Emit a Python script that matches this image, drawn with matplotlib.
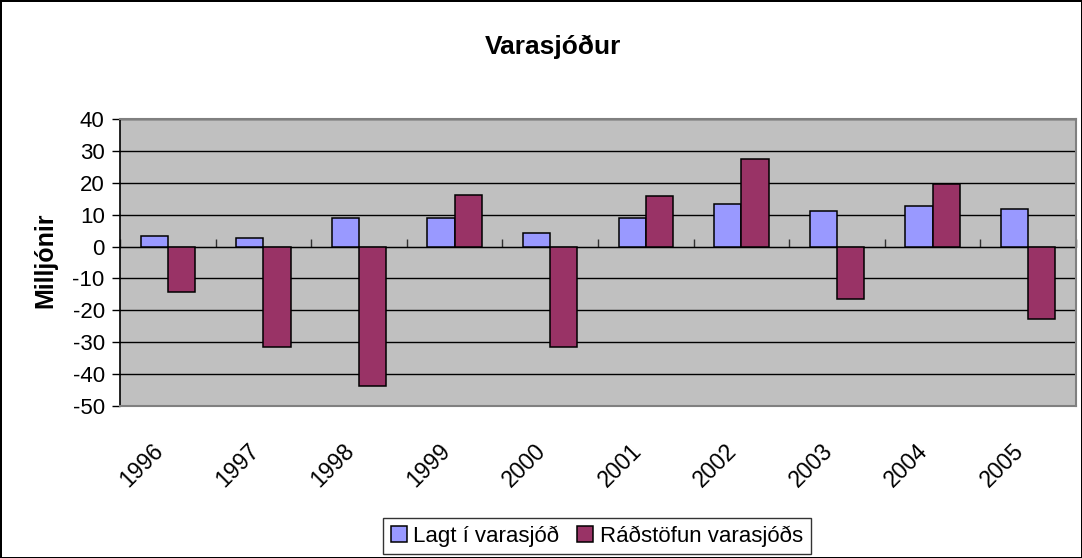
import matplotlib.pyplot as plt
import matplotlib.transforms as mtransforms
import numpy as np

years = ["1996", "1997", "1998", "1999", "2000", "2001", "2002", "2003", "2004", "2005"]
lagt = [3.4, 2.8, 8.9, 8.9, 4.2, 8.9, 13.5, 11.3, 12.6, 11.7]
radstofun = [-14.4, -31.6, -43.8, 16.2, -31.6, 15.8, 27.4, -16.3, 19.6, -22.8]
yticks = list(range(-50, 41, 10))

plt.rcParams["font.family"] = ["Liberation Sans", "DejaVu Sans"]

fig = plt.figure(figsize=(10.82, 5.58), dpi=100)
fig.patch.set_edgecolor("black")
fig.patch.set_linewidth(2)
ax = fig.add_axes([120 / 1082, 152 / 558, 956 / 1082, 287 / 558])
ax.set_facecolor("#C0C0C0")

x = np.arange(len(years))
w = 0.285
ax.bar(x - w / 2, lagt, w, color="#9999FF", edgecolor="black", linewidth=1.1,
       label="Lagt í varasjóð", zorder=3)
ax.bar(x + w / 2, radstofun, w, color="#993366", edgecolor="black", linewidth=1.1,
       label="Ráðstöfun varasjóðs", zorder=3)

ax.set_xlim(-0.5, len(years) - 0.5)
ax.set_ylim(-50, 40)
ax.set_yticks(yticks)
ax.set_yticklabels([str(v) for v in yticks], fontsize=16)
ax.yaxis.grid(True, color="black", linewidth=1, zorder=0)
ax.tick_params(axis="y", length=6, width=1, pad=5)

ax.set_xticks(x)
ax.set_xticklabels(years, rotation=45, ha="right", va="center",
                   rotation_mode="anchor", fontsize=16.5)
ax.tick_params(axis="x", length=0, pad=30)
shift = mtransforms.ScaledTranslation(-0.08, 0, fig.dpi_scale_trans)
for lbl in ax.get_xticklabels():
    lbl.set_transform(lbl.get_transform() + shift)

for s in ["top", "right", "bottom"]:
    ax.spines[s].set_color("#808080")
    ax.spines[s].set_linewidth(1.5)
ax.spines["left"].set_color("black")
ax.spines["left"].set_linewidth(1.2)

# category axis crossing at zero
sec = ax.secondary_xaxis(50 / 90)
sec.set_xticks(np.arange(len(years) + 1) - 0.5)
sec.set_xticklabels([])
sec.tick_params(direction="out", length=6, width=1, color="#303030")
sec.spines["bottom"].set_color("#303030")
sec.spines["bottom"].set_linewidth(1.2)

fig.text(553 / 1082, 1 - 47 / 558, "Varasjóður", ha="center", va="center",
         fontsize=19, fontweight="bold")
fig.text(45 / 1082, 1 - 260 / 558, "Milljónir", ha="center", va="center",
         rotation=90, fontsize=18, fontweight="bold")

leg = fig.legend(loc="center", bbox_to_anchor=(597 / 1082, 1 - 536 / 558), ncol=2,
                 fontsize=16, frameon=True, fancybox=False, edgecolor="black",
                 handlelength=0.7, handleheight=0.7, handletextpad=0.3,
                 columnspacing=0.8, borderpad=0.35)
leg.get_frame().set_linewidth(1)

fig.savefig("out.png", dpi=100)
